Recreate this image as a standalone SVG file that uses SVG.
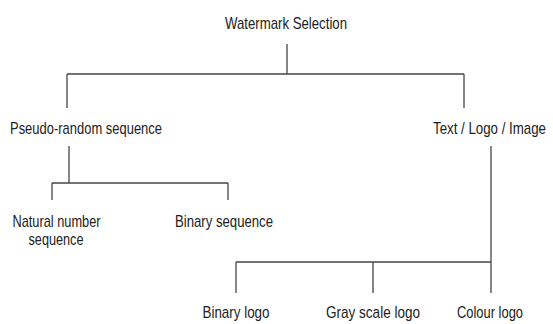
<svg xmlns="http://www.w3.org/2000/svg" width="553" height="324" viewBox="0 0 553 324">
<style>
text{font-family:"Liberation Sans",Arial,sans-serif;font-size:17px;fill:#222}
.c{text-anchor:middle}
line{stroke:#444;stroke-width:1.3;fill:none}
</style>
<rect width="553" height="324" fill="#fff"/>
<g id="connectors">
<line x1="287" y1="44" x2="287" y2="74"/>
<line x1="67" y1="74" x2="464" y2="74"/>
<line x1="67" y1="74" x2="67" y2="108"/>
<line x1="464" y1="74" x2="464" y2="108"/>
<line x1="69" y1="146" x2="69" y2="183"/>
<line x1="52" y1="183" x2="228" y2="183"/>
<line x1="52" y1="183" x2="52" y2="200"/>
<line x1="228" y1="183" x2="228" y2="200"/>
<line x1="491" y1="146" x2="491" y2="262"/>
<line x1="236" y1="262" x2="491" y2="262"/>
<line x1="236" y1="262" x2="236" y2="293"/>
<line x1="373" y1="262" x2="373" y2="293"/>
<line x1="491" y1="262" x2="491" y2="293"/>
</g>
<g id="watermark-selection"><text class="c" x="286" y="29" textLength="122" lengthAdjust="spacingAndGlyphs">Watermark Selection</text></g>
<g id="pseudo-random"><text x="10" y="134" textLength="152" lengthAdjust="spacingAndGlyphs">Pseudo-random sequence</text></g>
<g id="text-logo-image"><text x="433" y="134" textLength="113" lengthAdjust="spacingAndGlyphs">Text / Logo / Image</text></g>
<g id="natural-number"><text class="c" x="56.5" y="227" textLength="88" lengthAdjust="spacingAndGlyphs">Natural number</text><text class="c" x="56" y="245" textLength="55" lengthAdjust="spacingAndGlyphs">sequence</text></g>
<g id="binary-sequence"><text class="c" x="224" y="227" textLength="98" lengthAdjust="spacingAndGlyphs">Binary sequence</text></g>
<g id="binary-logo"><text class="c" x="236" y="318" textLength="67" lengthAdjust="spacingAndGlyphs">Binary logo</text></g>
<g id="gray-scale-logo"><text class="c" x="373" y="318" textLength="94" lengthAdjust="spacingAndGlyphs">Gray scale logo</text></g>
<g id="colour-logo"><text class="c" x="490" y="318" textLength="66" lengthAdjust="spacingAndGlyphs">Colour logo</text></g>
</svg>
